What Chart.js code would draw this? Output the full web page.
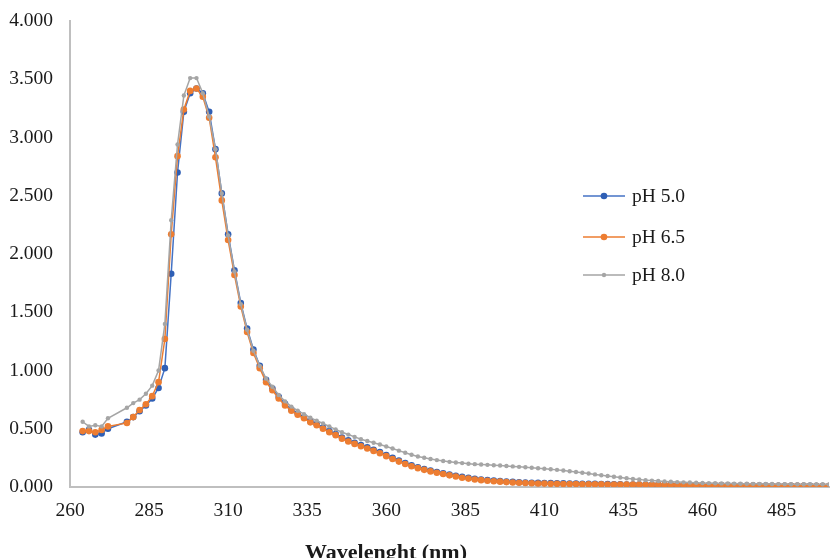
<!DOCTYPE html>
<html>
<head>
<meta charset="utf-8">
<script src="https://cdn.jsdelivr.net/npm/chart.js@4.4.1/dist/chart.umd.min.js"></script>
<style>
    html, body { margin: 0; padding: 0; background: #ffffff; overflow: hidden; }
    #wrap { position: relative; width: 833px; height: 558px; }
    #absChart { display: block; }
</style>
</head>
<body>
<div id="wrap"><canvas id="absChart" width="833" height="558"></canvas></div>
<script>
// wavelengths (nm) - 274 and 276 were not measured
const wavelengths = [264, 266, 268, 270, 272, 278, 280, 282, 284, 286, 288, 290, 292, 294, 296, 298, 300,
    302, 304, 306, 308, 310, 312, 314, 316, 318, 320, 322, 324, 326, 328, 330, 332, 334, 336, 338, 340,
    342, 344, 346, 348, 350, 352, 354, 356, 358, 360, 362, 364, 366, 368, 370, 372, 374, 376, 378, 380,
    382, 384, 386, 388, 390, 392, 394, 396, 398, 400, 402, 404, 406, 408, 410, 412, 414, 416, 418, 420,
    422, 424, 426, 428, 430, 432, 434, 436, 438, 440, 442, 444, 446, 448, 450, 452, 454, 456, 458, 460,
    462, 464, 466, 468, 470, 472, 474, 476, 478, 480, 482, 484, 486, 488, 490, 492, 494, 496, 498, 500];

const ph50 = [0.47, 0.49, 0.45, 0.46, 0.50, 0.56, 0.60, 0.65, 0.70, 0.76, 0.85, 1.02, 1.83, 2.70, 3.22, 3.38, 3.42,
    3.38, 3.22, 2.90, 2.52, 2.17, 1.86, 1.58, 1.36, 1.18, 1.04, 0.92, 0.845, 0.775, 0.715, 0.665, 0.63, 0.60, 0.565, 0.54, 0.51,
    0.48, 0.455, 0.425, 0.40, 0.38, 0.36, 0.34, 0.32, 0.30, 0.275, 0.25, 0.227, 0.205, 0.186, 0.169, 0.154, 0.141, 0.129, 0.118, 0.107,
    0.097, 0.087, 0.079, 0.071, 0.065, 0.060, 0.055, 0.051, 0.047, 0.044, 0.041, 0.039, 0.037, 0.035, 0.034, 0.033, 0.032, 0.031, 0.030, 0.029,
    0.028, 0.027, 0.027, 0.026, 0.025, 0.024, 0.023, 0.022, 0.021, 0.021, 0.020, 0.019, 0.019, 0.018, 0.018, 0.017, 0.017, 0.016, 0.016, 0.015,
    0.015, 0.015, 0.014, 0.014, 0.013, 0.013, 0.013, 0.012, 0.012, 0.012, 0.011, 0.011, 0.011, 0.010, 0.010, 0.010, 0.010, 0.009, 0.009, 0.009];

const ph65 = [0.48, 0.48, 0.47, 0.49, 0.52, 0.55, 0.60, 0.66, 0.71, 0.78, 0.90, 1.27, 2.17, 2.84, 3.24, 3.40, 3.42,
    3.35, 3.17, 2.83, 2.46, 2.12, 1.82, 1.55, 1.33, 1.15, 1.02, 0.90, 0.83, 0.76, 0.70, 0.655, 0.62, 0.59, 0.555, 0.53, 0.50,
    0.47, 0.445, 0.415, 0.39, 0.37, 0.35, 0.33, 0.31, 0.29, 0.265, 0.24, 0.218, 0.197, 0.178, 0.162, 0.147, 0.134, 0.122, 0.111, 0.100,
    0.090, 0.080, 0.072, 0.065, 0.059, 0.054, 0.050, 0.046, 0.042, 0.039, 0.036, 0.034, 0.032, 0.030, 0.029, 0.028, 0.027, 0.026, 0.025, 0.025,
    0.024, 0.024, 0.023, 0.023, 0.022, 0.022, 0.021, 0.021, 0.020, 0.020, 0.019, 0.019, 0.018, 0.018, 0.017, 0.017, 0.016, 0.016, 0.015, 0.015,
    0.015, 0.014, 0.014, 0.013, 0.013, 0.013, 0.012, 0.012, 0.012, 0.011, 0.011, 0.011, 0.010, 0.010, 0.010, 0.010, 0.009, 0.009, 0.009, 0.009];

const ph80 = [0.56, 0.52, 0.53, 0.52, 0.59, 0.68, 0.72, 0.75, 0.80, 0.87, 1.00, 1.40, 2.29, 2.94, 3.36, 3.51, 3.51,
    3.38, 3.18, 2.90, 2.52, 2.16, 1.85, 1.57, 1.35, 1.17, 1.04, 0.93, 0.86, 0.79, 0.735, 0.69, 0.655, 0.625, 0.595, 0.57, 0.545,
    0.52, 0.495, 0.47, 0.45, 0.43, 0.41, 0.395, 0.38, 0.365, 0.348, 0.33, 0.312, 0.294, 0.277, 0.262, 0.251, 0.240, 0.231, 0.223, 0.216,
    0.210, 0.205, 0.200, 0.196, 0.193, 0.190, 0.187, 0.184, 0.180, 0.177, 0.173, 0.169, 0.165, 0.161, 0.157, 0.152, 0.147, 0.141, 0.135, 0.129,
    0.122, 0.116, 0.108, 0.101, 0.094, 0.088, 0.081, 0.075, 0.069, 0.064, 0.059, 0.055, 0.051, 0.048, 0.045, 0.042, 0.040, 0.038, 0.036, 0.034,
    0.033, 0.032, 0.031, 0.030, 0.029, 0.028, 0.028, 0.027, 0.027, 0.026, 0.026, 0.025, 0.025, 0.024, 0.024, 0.024, 0.023, 0.023, 0.023, 0.022];

const seriesLabels = ['pH 5.0', 'pH 6.5', 'pH 8.0'];
const xTicks = [260, 285, 310, 335, 360, 385, 410, 435, 460, 485];
const yTicks = [0, 0.5, 1, 1.5, 2, 2.5, 3, 3.5, 4];
const xTitle = 'Wavelenght (nm)';

const serif = "'Liberation Serif', 'DejaVu Serif', serif";

function toPoints(values) {
    return values.map((v, i) => ({ x: wavelengths[i], y: v }));
}

// legend sits inside the plot, drawn by hand
const insideLegend = {
    id: 'insideLegend',
    afterDraw(chart) {
        const ctx = chart.ctx;
        const rows = [196, 237, 275];
        ctx.save();
        chart.data.datasets.forEach((ds, i) => {
            const y = rows[i];
            ctx.strokeStyle = ds.borderColor;
            ctx.lineWidth = ds.borderWidth;
            ctx.beginPath();
            ctx.moveTo(583, y);
            ctx.lineTo(625, y);
            ctx.stroke();
            ctx.fillStyle = ds.pointBackgroundColor;
            ctx.beginPath();
            ctx.arc(604, y, ds.pointRadius, 0, Math.PI * 2);
            ctx.fill();
            ctx.fillStyle = '#1a1a1a';
            ctx.font = '19.5px ' + serif;
            ctx.textAlign = 'left';
            ctx.textBaseline = 'middle';
            ctx.fillText(ds.label, 632, y + 1);
        });
        ctx.restore();
    }
};

// axis title is off-centre in the original, so place it directly
const axisTitle = {
    id: 'axisTitle',
    afterDraw(chart) {
        const ctx = chart.ctx;
        ctx.save();
        ctx.fillStyle = '#1a1a1a';
        ctx.font = 'bold 22px ' + serif;
        ctx.textAlign = 'center';
        ctx.textBaseline = 'alphabetic';
        ctx.fillText(xTitle, 386, 559);
        ctx.restore();
    }
};

const ctx = document.getElementById('absChart');

new Chart(ctx, {
    type: 'line',
    data: {
        datasets: [{
            label: seriesLabels[0],
            data: toPoints(ph50),
            borderColor: '#4472C4',
            backgroundColor: '#4472C4',
            pointBackgroundColor: '#2F5FB5',
            pointBorderWidth: 0,
            pointRadius: 3.3,
            borderWidth: 1.5,
            order: 3
        }, {
            label: seriesLabels[1],
            data: toPoints(ph65),
            borderColor: '#ED7D31',
            backgroundColor: '#ED7D31',
            pointBackgroundColor: '#ED7D31',
            pointBorderWidth: 0,
            pointRadius: 3.3,
            borderWidth: 1.5,
            order: 2
        }, {
            label: seriesLabels[2],
            data: toPoints(ph80),
            borderColor: '#A5A5A5',
            backgroundColor: '#A5A5A5',
            pointBackgroundColor: '#A5A5A5',
            pointBorderWidth: 0,
            pointRadius: 2.2,
            borderWidth: 1.5,
            order: 1
        }]
    },
    options: {
        responsive: false,
        animation: false,
        devicePixelRatio: 1,
        layout: {
            padding: { top: 21, right: 0, left: 0, bottom: 0 }
        },
        plugins: {
            legend: { display: false },
            tooltip: { enabled: false }
        },
        scales: {
            x: {
                type: 'linear',
                min: 260,
                max: 500,
                afterBuildTicks: function(scale) {
                    scale.ticks = xTicks.map(v => ({ value: v }));
                },
                afterFit: function(scale) {
                    scale.height = 71;
                    scale.paddingLeft = 0;
                    scale.paddingRight = 0;
                },
                grid: { display: false, drawTicks: false },
                border: { display: true, color: '#BFBFBF', width: 2 },
                ticks: {
                    color: '#1a1a1a',
                    padding: 12,
                    maxRotation: 0,
                    autoSkip: false,
                    font: { family: serif, size: 19.5 }
                }
            },
            y: {
                min: 0,
                max: 4,
                afterBuildTicks: function(scale) {
                    scale.ticks = yTicks.map(v => ({ value: v }));
                },
                afterFit: function(scale) {
                    scale.width = 70;
                    scale.paddingTop = 0;
                    scale.paddingBottom = 0;
                },
                grid: { display: false, drawTicks: false },
                border: { display: true, color: '#BFBFBF', width: 2 },
                ticks: {
                    color: '#1a1a1a',
                    padding: 17,
                    autoSkip: false,
                    font: { family: serif, size: 19.5 },
                    callback: function(value) {
                        return value.toFixed(3);
                    }
                }
            }
        }
    },
    plugins: [insideLegend, axisTitle]
});
</script>
</body>
</html>
